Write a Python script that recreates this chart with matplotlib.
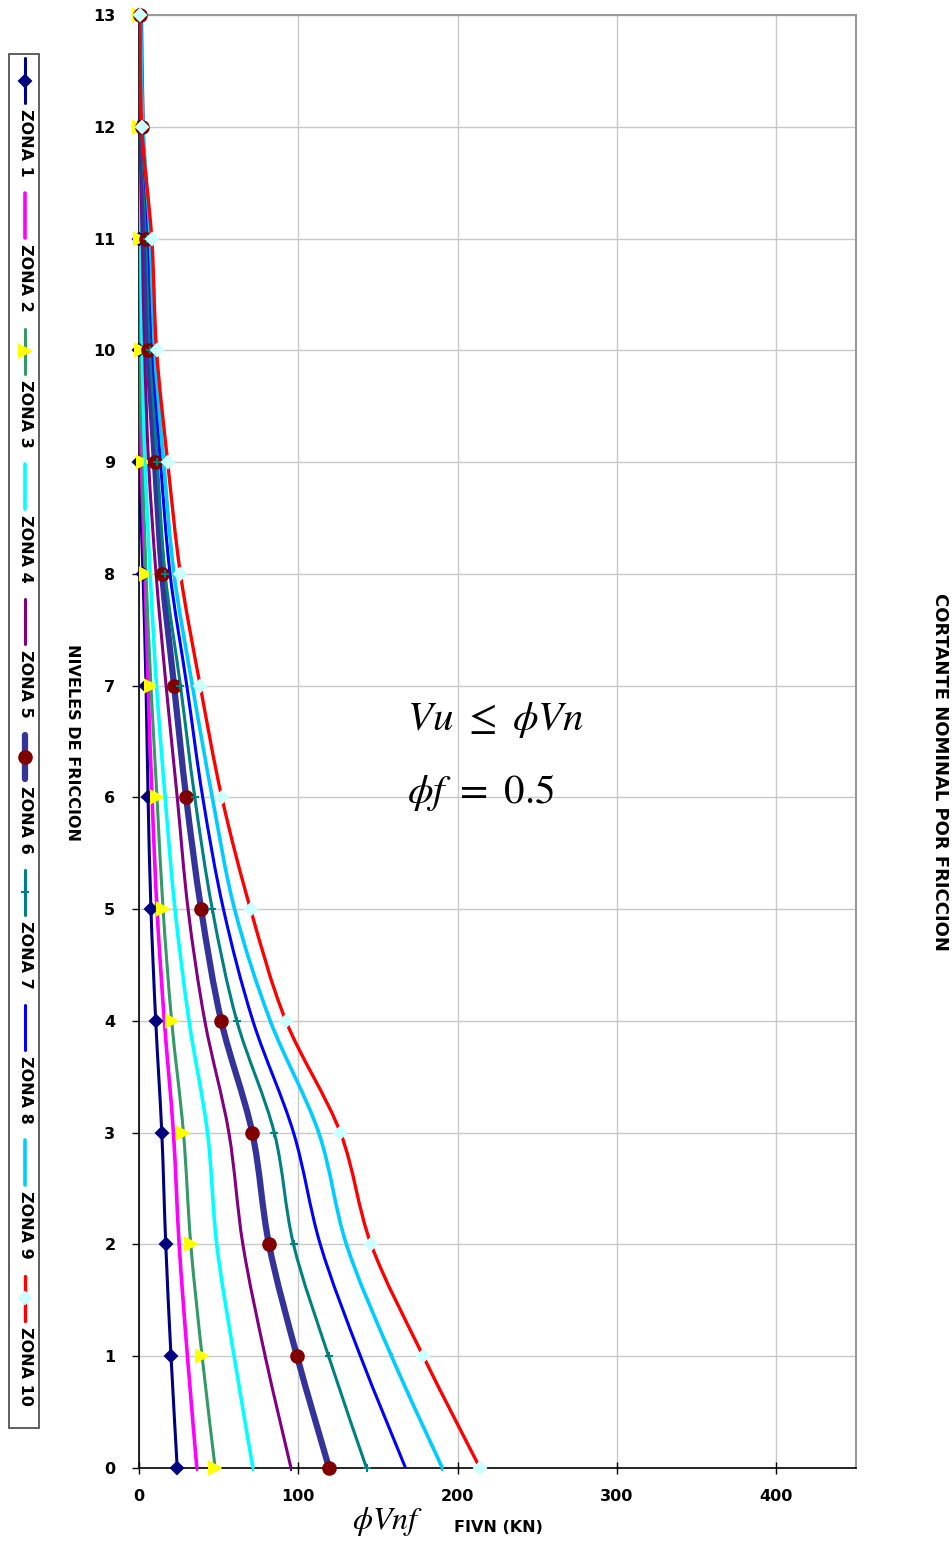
import numpy as np
import matplotlib
matplotlib.use("Agg")
import matplotlib.pyplot as plt
from matplotlib.path import Path
from matplotlib.patches import PathPatch, Rectangle
from matplotlib.lines import Line2D

plt.rcParams['mathtext.fontset'] = 'stix'
plt.rcParams['font.family'] = ['DejaVu Sans']

levels = [0, 1, 2, 3, 4, 5, 6, 7, 8, 9, 10, 11, 12, 13]
zone_names = ["ZONA 1", "ZONA 2", "ZONA 3", "ZONA 4", "ZONA 5",
              "ZONA 6", "ZONA 7", "ZONA 8", "ZONA 9", "ZONA 10"]

zona1 = [24.0, 20.1, 16.8, 14.3, 10.5, 7.5, 5.7, 4.4, 2.5, 0.3, 0.2, 0.1, 0.0, 0.0]
zona2 = [36.3, 30.4, 25.2, 21.6, 15.9, 11.3, 8.2, 5.7, 3.8, 1.5, 0.8, 0.3, 0.0, 0.0]
zona3 = [47.8, 39.6, 32.5, 27.9, 20.5, 15.1, 11.3, 7.5, 4.4, 2.3, 1.0, 0.5, 0.0, 0.0]
zona4 = [71.5, 59.7, 48.8, 43.0, 31.4, 22.6, 16.4, 11.0, 7.0, 3.8, 2.0, 1.2, 0.3, 0.2]
zona5 = [95.4, 79.2, 65.2, 56.4, 41.3, 30.8, 24.0, 17.0, 10.7, 6.0, 3.5, 2.0, 0.6, 0.3]
zona6 = [119.3, 99.2, 81.6, 71.1, 51.6, 39.0, 29.6, 22.0, 14.5, 10.0, 5.9, 4.2, 1.7, 0.6]
zona7 = [142.8, 119.0, 97.0, 84.9, 61.4, 46.0, 35.0, 26.0, 16.4, 11.5, 7.2, 5.0, 2.0, 0.7]
zona8 = [167.3, 139.0, 113.8, 97.0, 71.5, 53.0, 40.0, 30.0, 19.5, 13.5, 8.5, 6.0, 2.3, 0.8]
zona9 = [190.4, 158.5, 130.2, 112.8, 82.4, 60.0, 46.0, 33.5, 22.0, 15.5, 9.8, 7.0, 2.5, 1.0]
zona10 = [214.0, 178.4, 145.7, 126.4, 92.2, 70.0, 52.0, 38.4, 26.0, 18.0, 11.0, 8.0, 1.7, 0.6]
series = [zona1, zona2, zona3, zona4, zona5, zona6, zona7, zona8, zona9, zona10]

x_ticks = [0, 100, 200, 300, 400]
y_ticks = levels

# styles: line colour, width, marker, marker face, marker size
styles = [
    dict(c="#000080", lw=2.2, m="D", mc="#000080", ms=6),
    dict(c="#FF00FF", lw=2.6, m="|", mc="#FF00FF", ms=5),
    dict(c="#339966", lw=2.2, m=">", mc="#FFFF00", ms=8),
    dict(c="#00FFFF", lw=2.6, m="|", mc="#00FFFF", ms=5),
    dict(c="#800080", lw=2.2, m="|", mc="#800080", ms=5),
    dict(c="#333399", lw=4.5, m="o", mc="#800000", ms=9),
    dict(c="#008080", lw=2.2, m="+", mc="#008080", ms=6),
    dict(c="#0000FF", lw=2.2, m="", mc="#0000FF", ms=0),
    dict(c="#00CCFF", lw=2.6, m="|", mc="#00CCFF", ms=5),
    dict(c="#FF0000", lw=2.4, m="D", mc="#CCFFFF", ms=6),
]

W, H = 953, 1545
fig = plt.figure(figsize=(W / 100, H / 100), dpi=100)
ax = fig.add_axes([139 / W, (H - 1468) / H, (856 - 139) / W, (1468 - 15) / H])
ax.set_xlim(0, 450)
ax.set_ylim(0, 13)


def smooth_path(xs, ys):
    pts = np.column_stack([xs, ys]).astype(float)
    n = len(pts)
    verts = [pts[0]]
    codes = [Path.MOVETO]
    for i in range(n - 1):
        p0 = pts[i - 1] if i > 0 else pts[i]
        p1 = pts[i]
        p2 = pts[i + 1]
        p3 = pts[i + 2] if i + 2 < n else pts[i + 1]
        c1 = p1 + (p2 - p0) / 6.0
        c2 = p2 - (p3 - p1) / 6.0
        verts += [c1, c2, p2]
        codes += [Path.CURVE4] * 3
    return Path(verts, codes)


for vals, st in zip(series, styles):
    patch = PathPatch(smooth_path(vals, levels), facecolor="none",
                      edgecolor=st["c"], lw=st["lw"], capstyle="round",
                      joinstyle="round", zorder=3)
    ax.add_patch(patch)
    if st["m"]:
        ax.plot(vals, levels, linestyle="none", marker=st["m"], ms=st["ms"],
                mfc=st["mc"], mec=st["mc"], mew=1.5, zorder=4, clip_on=False)

ax.set_xticks(x_ticks)
ax.set_yticks(y_ticks)
ax.set_xticklabels([str(t) for t in x_ticks], fontsize=11.5, fontweight="bold")
ax.set_yticklabels([str(t) for t in y_ticks], fontsize=11.5, fontweight="bold")
ax.grid(True, color="#C8C8C8", lw=1)
ax.set_axisbelow(True)
ax.tick_params(axis="x", direction="inout", length=8, width=1, pad=11)
ax.tick_params(axis="y", direction="out", length=5, width=1, pad=12)
for s in ["left", "bottom"]:
    ax.spines[s].set_color("black")
    ax.spines[s].set_linewidth(1.2)
for s in ["top", "right"]:
    ax.spines[s].set_color("#999999")
    ax.spines[s].set_linewidth(1.5)

# formula annotation
ax.text(168, 6.60, r"$Vu\ \leq\ \phi Vn$", fontsize=29.5, ha="left", va="baseline")
ax.text(168, 5.95, r"$\phi f\ =\ 0.5$", fontsize=29.5, ha="left", va="baseline")

# axis labels
fig.text(388 / W, 1 - 1522 / H, r"$\phi Vnf$", fontsize=23, ha="center", va="center")
fig.text(498 / W, 1 - 1528 / H, "FIVN (KN)", fontsize=11.5, fontweight="bold",
         ha="center", va="center")
fig.text(73 / W, 1 - 742 / H, "NIVELES DE FRICCION", fontsize=11.5, fontweight="bold",
         rotation=-90, ha="center", va="center")
fig.text(940 / W, 1 - 772 / H, "CORTANTE NOMINAL POR FRICCION", fontsize=13,
         fontweight="bold", rotation=-90, ha="center", va="center")

# vertical legend
fig.add_artist(Rectangle((9 / W, 1 - 1428 / H), 30 / W, (1428 - 54) / H,
                         transform=fig.transFigure, facecolor="white",
                         edgecolor="#444444", lw=1.2))
step = 135.3
for i, (name, st) in enumerate(zip(zone_names, styles)):
    y0 = 58 + step * i
    y1 = 103 + step * i
    xc = 25 / W
    fig.add_artist(Line2D([xc, xc], [1 - y0 / H, 1 - y1 / H], transform=fig.transFigure,
                          color=st["c"], lw=st["lw"], solid_capstyle="round"))
    if st["m"]:
        fig.add_artist(Line2D([xc], [1 - (y0 + y1) / 2 / H], transform=fig.transFigure,
                              linestyle="none", marker=st["m"], ms=st["ms"],
                              mfc=st["mc"], mec=st["mc"], mew=1.5))
    fig.text(xc, 1 - (y1 + 6) / H, name, fontsize=11.5, fontweight="bold",
             rotation=-90, ha="center", va="top")

fig.savefig("out.png", dpi=100)
